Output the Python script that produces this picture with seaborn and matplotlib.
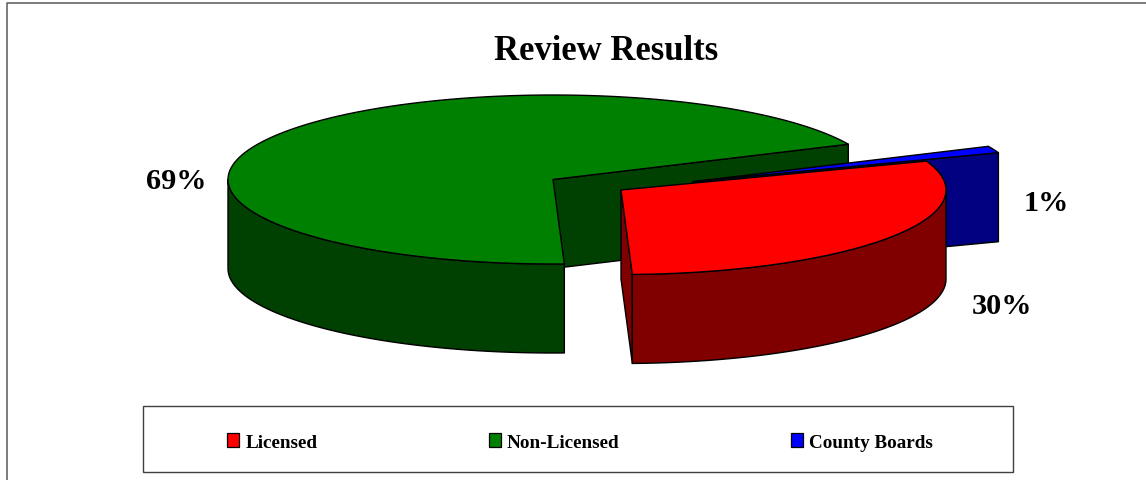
import numpy as np
import matplotlib
matplotlib.use("Agg")
import matplotlib.pyplot as plt
from matplotlib.patches import Patch, Polygon, Rectangle
import seaborn as sns

title = "Review Results"
categories = ["Licensed", "Non-Licensed", "County Boards"]
values = [30.0, 68.7, 1.3]

sns.set_theme(style="white")
plt.rcParams["font.family"] = ["Liberation Serif", "DejaVu Serif"]

top_colors = sns.color_palette(["#FF0000", "#008000", "#0000FF"])
side_colors = sns.color_palette(["#800000", "#004000", "#000080"])

# pie geometry, in pixels
rx, ry, depth = 325, 84.5, 89
start_angle = 272
centers = [(621, 191), (553, 180.5), (693, 182.6)]
label_pos = [(1002, 307), (176, 182), (1046, 204)]
lw = 1.0


def arc(center, a0, a1):
    t = np.radians(np.linspace(a0, a1, 200))
    return np.column_stack([center[0] + rx * np.cos(t), center[1] - ry * np.sin(t)])


def face(ax, pts, color, z):
    ax.add_patch(Polygon(pts, closed=True, facecolor=color, edgecolor="black",
                         linewidth=lw, joinstyle="round", zorder=z))


def wall(ax, center, a0, a1, color, z):
    up = arc(center, a0, a1)
    down = up[::-1] + [0, depth]
    face(ax, np.vstack([up, down]), color, z)


def cut(ax, center, a, color, z):
    p = arc(center, a, a)[0]
    c = np.array(center)
    face(ax, [c, p, p + [0, depth], c + [0, depth]], color, z)


fig, ax = plt.subplots(figsize=(11.46, 4.81), dpi=100)
fig.subplots_adjust(0, 0, 1, 1)
ax.set_xlim(0, 1146)
ax.set_ylim(481, 0)
ax.axis("off")

# slices run clockwise from the start angle
sweeps = np.array(values) / sum(values) * 360
red_end = start_angle + sweeps[0]
green_end = start_angle - sweeps[1]

# green
cut(ax, centers[1], green_end, side_colors[1], 2)
wall(ax, centers[1], 180, start_angle, side_colors[1], 3)
face(ax, np.vstack([[centers[1]], arc(centers[1], start_angle, green_end)]), top_colors[1], 4)

# blue
blue_a0 = red_end - 360
blue_a1 = blue_a0 + sweeps[2]
cut(ax, centers[2], blue_a0, side_colors[2], 5)
face(ax, np.vstack([[centers[2]], arc(centers[2], blue_a0, blue_a1)]), top_colors[2], 6)

# red
cut(ax, centers[0], start_angle, side_colors[0], 7)
wall(ax, centers[0], start_angle, 360, side_colors[0], 8)
face(ax, np.vstack([[centers[0]], arc(centers[0], start_angle, red_end)]), top_colors[0], 9)

for v, (x, y) in zip(values, label_pos):
    ax.text(x, y, f"{v:.0f}%", ha="center", va="center", fontsize=21.8,
            fontweight="bold", color="black", zorder=10)

ax.text(606, 52, title, ha="center", va="center", fontsize=24.9,
        fontweight="bold", color="black")

# chart area border, only top and left show
ax.plot([6.5, 6.5, 1146], [481, 3.5, 3.5], color="#595959", lw=1.1, clip_on=False)

# legend box
ax.add_patch(Rectangle((142.5, 407), 870, 66, facecolor="white", edgecolor="#404040",
                       linewidth=1.0, zorder=1))
handles = [Patch(facecolor=c, edgecolor="black", linewidth=0.9) for c in top_colors]
leg = ax.legend(handles, categories, ncol=3, frameon=False, loc="center",
                bbox_to_anchor=(580, 443), bbox_transform=ax.transData,
                handlelength=0.62, handleheight=0.68, handletextpad=0.33,
                columnspacing=8.94, borderpad=0, borderaxespad=0,
                prop={"size": 13.8, "weight": "bold"})
for t in leg.get_texts():
    t.set_color("black")

fig.savefig("out.png", dpi=100, facecolor="white")
